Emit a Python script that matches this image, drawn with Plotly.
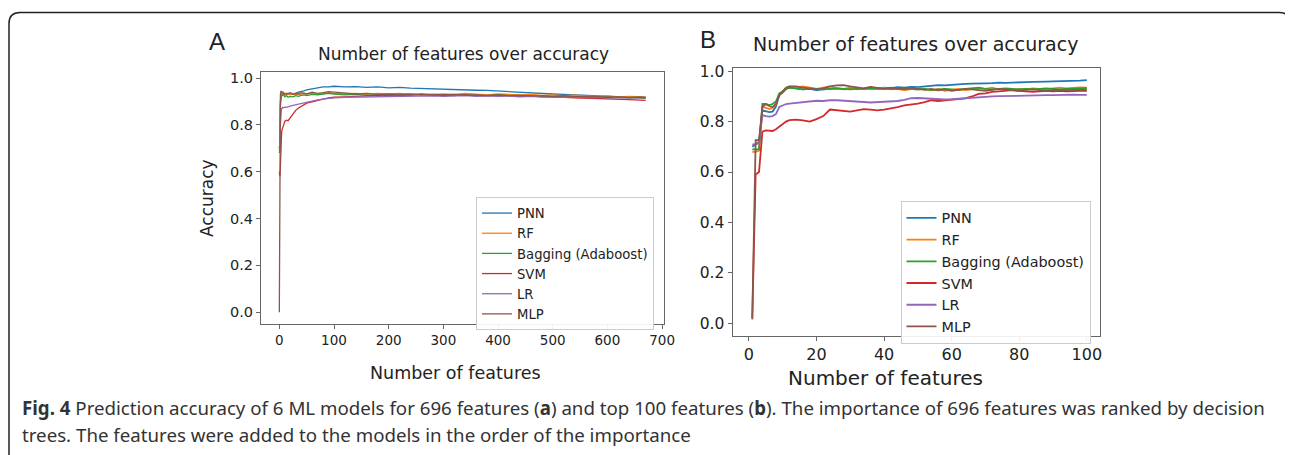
import plotly.graph_objects as go

W, H = 1293, 455
OFF = 8  # page body margin of the browser

models = ["PNN", "RF", "Bagging (Adaboost)", "SVM", "LR", "MLP"]
colors = ["#1f77b4", "#ff7f0e", "#2ca02c", "#d62728", "#9467bd", "#8c564b"]

# ---------------- Panel A: 696 features ----------------
x_a = [0, 1, 2, 3, 4, 5, 6, 8, 10, 13, 16, 20, 25, 30, 35, 40, 45, 50, 60, 70, 80, 90,
       100, 120, 140, 160, 180, 200, 220, 240, 260, 280,
       300, 320, 340, 360, 380, 400, 420, 440, 460, 480,
       500, 520, 540, 560, 580, 600, 620, 640, 660, 670]

pnn_a = [0.70, 0.72, 0.90, 0.93, 0.935, 0.93, 0.935, 0.93, 0.932, 0.93, 0.935, 0.93, 0.932, 0.935, 0.94, 0.942, 0.945, 0.95, 0.955, 0.958, 0.962, 0.962,
         0.965, 0.962, 0.963, 0.96, 0.962, 0.958, 0.96, 0.957, 0.955, 0.954,
         0.953, 0.951, 0.95, 0.948, 0.947, 0.944, 0.942, 0.94, 0.937, 0.935,
         0.932, 0.93, 0.928, 0.927, 0.925, 0.922, 0.92, 0.918, 0.916, 0.915]
rf_a = [0.69, 0.70, 0.90, 0.935, 0.94, 0.932, 0.938, 0.93, 0.935, 0.928, 0.933, 0.93, 0.935, 0.928, 0.932, 0.93, 0.935, 0.932, 0.936, 0.93, 0.934, 0.938,
        0.935, 0.932, 0.934, 0.93, 0.935, 0.932, 0.934, 0.93, 0.933, 0.93,
        0.932, 0.93, 0.934, 0.93, 0.928, 0.932, 0.93, 0.928, 0.93, 0.926,
        0.928, 0.925, 0.927, 0.924, 0.922, 0.924, 0.92, 0.922, 0.92, 0.92]
bag_a = [0.68, 0.70, 0.88, 0.92, 0.93, 0.922, 0.928, 0.93, 0.92, 0.925, 0.918, 0.922, 0.92, 0.925, 0.922, 0.926, 0.928, 0.925, 0.93, 0.928, 0.932, 0.935,
         0.932, 0.928, 0.93, 0.926, 0.928, 0.925, 0.928, 0.926, 0.93, 0.925,
         0.927, 0.925, 0.928, 0.926, 0.924, 0.928, 0.925, 0.926, 0.922, 0.925,
         0.922, 0.924, 0.92, 0.922, 0.918, 0.92, 0.918, 0.916, 0.918, 0.917]
svm_a = [0.60, 0.58, 0.62, 0.72, 0.76, 0.78, 0.79, 0.80, 0.815, 0.82, 0.818, 0.83, 0.85, 0.862, 0.872, 0.88, 0.888, 0.893, 0.898, 0.905, 0.91, 0.915,
         0.918, 0.92, 0.922, 0.925, 0.926, 0.928, 0.926, 0.928, 0.93, 0.927,
         0.928, 0.926, 0.928, 0.925, 0.926, 0.924, 0.925, 0.922, 0.923, 0.92,
         0.92, 0.918, 0.916, 0.915, 0.912, 0.912, 0.91, 0.908, 0.906, 0.905]
lr_a = [0.70, 0.72, 0.80, 0.86, 0.872, 0.87, 0.875, 0.873, 0.876, 0.875, 0.878, 0.88, 0.883, 0.886, 0.888, 0.89, 0.893, 0.897, 0.903, 0.907, 0.91, 0.913,
        0.915, 0.918, 0.919, 0.92, 0.921, 0.922, 0.921, 0.923, 0.922, 0.924,
        0.922, 0.923, 0.925, 0.922, 0.924, 0.922, 0.923, 0.92, 0.922, 0.92,
        0.921, 0.918, 0.92, 0.917, 0.918, 0.915, 0.916, 0.914, 0.915, 0.914]
mlp_a = [0.0, 0.72, 0.93, 0.945, 0.94, 0.935, 0.942, 0.935, 0.93, 0.935, 0.932, 0.938, 0.93, 0.935, 0.932, 0.938, 0.935, 0.932, 0.94, 0.935, 0.938, 0.942,
         0.94, 0.935, 0.932, 0.935, 0.93, 0.932, 0.93, 0.932, 0.928, 0.93,
         0.928, 0.93, 0.927, 0.928, 0.926, 0.928, 0.925, 0.926, 0.924, 0.925,
         0.922, 0.924, 0.921, 0.922, 0.92, 0.918, 0.92, 0.917, 0.918, 0.916]

# ---------------- Panel B: top 100 features ----------------
x_b = [1, 2, 3, 4, 5, 6, 7, 8, 9, 10, 11, 12,
       14, 16, 18, 20, 22, 24, 26, 28, 30, 32, 34, 36, 38, 40, 42, 44, 46, 48, 50,
       52, 54, 56, 58, 60, 62, 64, 66, 68, 70, 72, 74, 76, 78, 80, 82, 84, 86, 88, 90,
       92, 94, 96, 98, 100]

pnn_b = [0.70, 0.71, 0.72, 0.845, 0.84, 0.838, 0.84, 0.86, 0.905, 0.915, 0.93, 0.935,
         0.932, 0.928, 0.93, 0.925, 0.928, 0.93, 0.932, 0.928, 0.93, 0.933, 0.93, 0.935, 0.932, 0.935, 0.933, 0.937, 0.935, 0.938, 0.937,
         0.94, 0.943, 0.945, 0.944, 0.947, 0.948, 0.95, 0.951, 0.95, 0.952, 0.953, 0.955, 0.954, 0.956, 0.955, 0.957, 0.958, 0.957, 0.959, 0.96,
         0.96, 0.962, 0.962, 0.963, 0.965]
rf_b = [0.68, 0.68, 0.685, 0.86, 0.855, 0.85, 0.855, 0.87, 0.91, 0.92, 0.935, 0.94,
        0.935, 0.94, 0.935, 0.93, 0.935, 0.94, 0.932, 0.93, 0.935, 0.928, 0.932, 0.937, 0.93, 0.934, 0.928, 0.93, 0.925, 0.93, 0.933,
        0.928, 0.925, 0.93, 0.922, 0.926, 0.93, 0.925, 0.928, 0.932, 0.93, 0.935, 0.928, 0.93, 0.926, 0.93, 0.928, 0.932, 0.93, 0.928, 0.932,
        0.935, 0.932, 0.935, 0.936, 0.935]
bag_b = [0.69, 0.69, 0.69, 0.87, 0.87, 0.866, 0.87, 0.88, 0.912, 0.92, 0.93, 0.935,
         0.93, 0.928, 0.932, 0.93, 0.928, 0.93, 0.932, 0.93, 0.928, 0.93, 0.93, 0.928, 0.93, 0.93, 0.928, 0.93, 0.928, 0.93, 0.927,
         0.93, 0.925, 0.928, 0.93, 0.928, 0.925, 0.93, 0.932, 0.935, 0.93, 0.928, 0.93, 0.932, 0.93, 0.928, 0.93, 0.928, 0.93, 0.932, 0.93,
         0.928, 0.93, 0.932, 0.933, 0.933]
svm_b = [0.02, 0.59, 0.60, 0.76, 0.765, 0.765, 0.763, 0.77, 0.78, 0.79, 0.80, 0.806,
         0.808, 0.805, 0.80, 0.81, 0.822, 0.848, 0.845, 0.842, 0.84, 0.845, 0.85, 0.848, 0.845, 0.848, 0.852, 0.858, 0.865, 0.868, 0.872,
         0.878, 0.885, 0.882, 0.885, 0.888, 0.89, 0.892, 0.90, 0.91, 0.912, 0.918, 0.92, 0.922, 0.925, 0.922, 0.92, 0.918, 0.92, 0.922, 0.92,
         0.922, 0.92, 0.922, 0.922, 0.922]
lr_b = [0.71, 0.71, 0.715, 0.826, 0.822, 0.82, 0.822, 0.83, 0.858, 0.865, 0.87, 0.872,
        0.875, 0.878, 0.882, 0.883, 0.882, 0.885, 0.885, 0.884, 0.883, 0.88, 0.878, 0.876, 0.877, 0.878, 0.88, 0.882, 0.886, 0.893, 0.894,
        0.892, 0.891, 0.89, 0.888, 0.889, 0.891, 0.893, 0.895, 0.898, 0.90, 0.90, 0.901, 0.902, 0.901, 0.903, 0.904, 0.903, 0.904, 0.905, 0.905,
        0.906, 0.906, 0.907, 0.906, 0.906]
mlp_b = [0.015, 0.727, 0.727, 0.858, 0.87, 0.862, 0.858, 0.87, 0.905, 0.92, 0.935, 0.94,
         0.94, 0.935, 0.93, 0.928, 0.932, 0.94, 0.944, 0.945, 0.94, 0.935, 0.932, 0.938, 0.935, 0.93, 0.935, 0.932, 0.928, 0.935, 0.93,
         0.926, 0.93, 0.924, 0.928, 0.922, 0.926, 0.93, 0.928, 0.925, 0.922, 0.926, 0.93, 0.928, 0.924, 0.922, 0.926, 0.928, 0.925, 0.922, 0.926,
         0.924, 0.925, 0.926, 0.925, 0.926]

series_a = [pnn_a, rf_a, bag_a, svm_a, lr_a, mlp_a]
series_b = [pnn_b, rf_b, bag_b, svm_b, lr_b, mlp_b]

x_ticks_a = [0, 100, 200, 300, 400, 500, 600, 700]
x_ticks_b = [0, 20, 40, 60, 80, 100]
y_ticks = [0.0, 0.2, 0.4, 0.6, 0.8, 1.0]

panel_title = "Number of features over accuracy"
x_title = "Number of features"
y_title = "Accuracy"
caption1 = ("<b>Fig. 4</b> Prediction accuracy of 6 ML models for 696 features (<b>a</b>) and top 100 features (<b>b</b>). "
            "The importance of 696 features was ranked by decision")
caption2 = "trees. The features were added to the models in the order of the importance"

fig = go.Figure()
for name, col, ya in zip(models, colors, series_a):
    fig.add_trace(go.Scatter(x=x_a, y=ya, mode="lines", name=name,
                             line=dict(color=col, width=1.3),
                             xaxis="x", yaxis="y", legend="legend"))
for name, col, yb in zip(models, colors, series_b):
    fig.add_trace(go.Scatter(x=x_b, y=yb, mode="lines", name=name,
                             line=dict(color=col, width=1.8),
                             xaxis="x2", yaxis="y2", legend="legend2"))


def px_x(p):
    return (p - OFF) / W


def px_y(p):
    return 1 - (p - OFF) / H


def axis(size, **kw):
    d = dict(showline=True, mirror=True, linecolor="#666", linewidth=1,
             ticks="outside", ticklen=4, tickcolor="#666", showgrid=False,
             zeroline=False, tickfont=dict(family="DejaVu Sans", color="#222", size=size))
    d.update(kw)
    return d


fig.update_layout(
    width=W, height=H,
    margin=dict(l=0, r=0, t=0, b=0, autoexpand=False),
    paper_bgcolor="white", plot_bgcolor="white",
    xaxis=axis(13.5, domain=[px_x(261), px_x(664)], range=[-33.5, 703.5],
               tickvals=x_ticks_a, anchor="y"),
    yaxis=axis(14.5, domain=[px_y(323.5), px_y(71.5)], range=[-0.048, 1.028],
               tickvals=y_ticks, tickformat=".1f", anchor="x"),
    xaxis2=axis(16, domain=[px_x(732.5), px_x(1100)], range=[-4.85, 103.9],
                tickvals=x_ticks_b, anchor="y2"),
    yaxis2=axis(15.5, domain=[px_y(335.5), px_y(67.5)], range=[-0.049, 1.015],
                tickvals=y_ticks, tickformat=".1f", anchor="x2"),
    legend=dict(x=px_x(476), y=px_y(197), xanchor="left", yanchor="top",
                font=dict(family="DejaVu Sans", size=13.2, color="#222"),
                bordercolor="#ccc", borderwidth=1, bgcolor="rgba(255,255,255,0.9)"),
    legend2=dict(x=px_x(900.5), y=px_y(201), xanchor="left", yanchor="top",
                 font=dict(family="DejaVu Sans", size=14.4, color="#222"),
                 bordercolor="#ccc", borderwidth=1, bgcolor="rgba(255,255,255,0.9)"),
    showlegend=True,
)


def ann(text, x, y, size, family="DejaVu Sans", xanchor="center", angle=0, color="#222"):
    fig.add_annotation(text=text, x=px_x(x), y=px_y(y), xref="paper", yref="paper",
                       xanchor=xanchor, yanchor="middle", showarrow=False, textangle=angle,
                       font=dict(family=family, size=size, color=color))


ann("A", 217, 42, 24, family="Liberation Sans")
ann("B", 708, 40, 24, family="Liberation Sans")
ann(panel_title, 463, 54, 17)
ann(panel_title, 915, 44, 19)
ann(x_title, 455, 373, 17.5)
ann(x_title, 885, 378, 20)
ann(y_title, 207, 198, 17, angle=-90)
ann(caption1, 20, 407, 18.7, family="Noto Sans", xanchor="left", color="#333")
ann(caption2, 20, 434, 18.7, family="Noto Sans", xanchor="left", color="#333")

# rounded frame around the figure
x0, x1 = px_x(9), px_x(1290)
yt, yb = px_y(12.5), px_y(480)
rx, ry = 11 / W, 11 / H
path = (f"M {x0},{yb} L {x0},{yt - ry} Q {x0},{yt} {x0 + rx},{yt} "
        f"L {x1 - rx},{yt} Q {x1},{yt} {x1},{yt - ry} L {x1},{yb}")
fig.add_shape(type="path", path=path, xref="paper", yref="paper",
              line=dict(color="#222", width=1.5), layer="above")

fig.write_html("out.html")
